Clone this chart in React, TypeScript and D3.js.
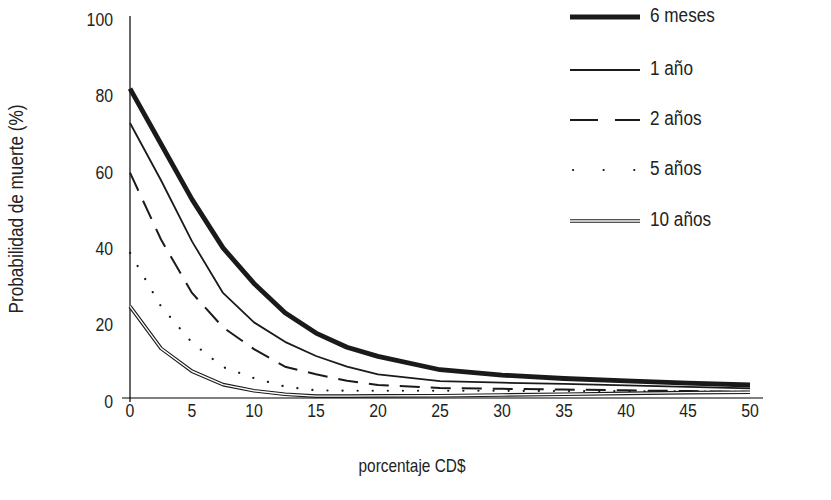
import React from 'react';
import * as d3 from 'd3';

// porcentaje CD$ (eje x)
const xValues = [0, 2.5, 5, 7.5, 10, 12.5, 15, 17.5, 20, 25, 30, 35, 40, 45, 50];

// probabilidad de muerte (%) por horizonte
const seisMeses = [81, 66.5, 52, 39.3, 30, 22.3, 17, 13.3, 10.9, 7.4, 6.0, 5.1, 4.5, 3.9, 3.4];
const unAno = [72, 57, 41, 27.5, 19.8, 14.7, 11, 8.2, 6.2, 4.4, 4.0, 3.7, 3.3, 2.9, 2.5];
const dosAnos = [59, 41.5, 27.5, 18.5, 12.8, 8.2, 6.2, 4.5, 3.4, 2.6, 2.4, 2.2, 2.0, 1.8, 1.6];
const cincoAnos = [38, 24, 14.5, 8.1, 5.2, 3.0, 2.0, 1.9, 1.9, 1.9, 1.9, 1.8, 1.8, 1.7, 1.6];
const diezAnos = [24, 13, 7, 3.5, 1.9, 1.0, 0.5, 0.5, 0.55, 0.6, 0.8, 1.0, 1.2, 1.4, 1.5];

const seriesNames = ['6 meses', '1 año', '2 años', '5 años', '10 años'];
const xTicks = [0, 5, 10, 15, 20, 25, 30, 35, 40, 45, 50];
const yTicks = [0, 20, 40, 60, 80, 100];

const FONT = '"Liberation Sans", Arial, sans-serif';
const SQUEEZE = 0.88; // la fuente original es condensada

// estilo de cada serie
const styles = [
  { width: 4.8, dash: null, legendDash: null, double: false },
  { width: 1.8, dash: null, legendDash: null, double: false },
  { width: 2, dash: '20,11', legendDash: '28,17', double: false },
  { width: 2.2, dash: '0.1,15', legendDash: '0.1,30.5', double: false, round: true },
  { width: 3.6, dash: null, legendDash: null, double: true },
];

// texto condensado
function Label({ x, y, size, anchor = 'start', rotate = 0, children }: any) {
  return (
    <text
      transform={`translate(${x},${y}) rotate(${rotate}) scale(${SQUEEZE},1)`}
      textAnchor={anchor}
      dominantBaseline="middle"
      fontSize={size}
      fill="#222"
    >
      {children}
    </text>
  );
}

export default function App() {
  const width = 831;
  const height = 500;

  const x = d3.scaleLinear().domain([0, 50]).range([130, 750]);
  const y = d3.scaleLinear().domain([0, 100]).range([398, 16]);

  const allSeries = [seisMeses, unAno, dosAnos, cincoAnos, diezAnos];

  const line = d3
    .line<number>()
    .x((_, i) => x(xValues[i]))
    .y((d) => y(d));

  const legendY = [17, 70, 120, 170, 221];
  const legX1 = 570;
  const legX2 = 640;

  return (
    <svg
      width={width}
      height={height}
      style={{ position: 'absolute', left: 0, top: 0, background: '#fff' }}
      fontFamily={FONT}
    >
      {/* ejes */}
      <line x1={x(0)} x2={x(0)} y1={y(100)} y2={y(0) + 4} stroke="#000" strokeWidth={1.2} />
      <line x1={x(0) - 8} x2={763} y1={y(0)} y2={y(0)} stroke="#000" strokeWidth={1.2} />

      {yTicks.map((t) => (
        <Label key={t} x={113} y={y(t) + 5} size={18} anchor="end">
          {t}
        </Label>
      ))}
      {xTicks.map((t) => (
        <Label key={t} x={x(t)} y={412} size={18} anchor="middle">
          {t}
        </Label>
      ))}

      <Label x={18} y={209} size={19.5} anchor="middle" rotate={-90}>
        Probabilidad de muerte (%)
      </Label>
      <Label x={412} y={467} size={17.5} anchor="middle">
        porcentaje CD$
      </Label>

      {/* series */}
      {allSeries.map((s, i) => {
        const st = styles[i];
        const d = line(s) || '';
        return (
          <g key={seriesNames[i]}>
            <path
              d={d}
              fill="none"
              stroke="#1a1a1a"
              strokeWidth={st.width}
              strokeDasharray={st.dash || undefined}
              strokeLinecap={st.round ? 'round' : 'butt'}
              strokeLinejoin="round"
            />
            {st.double && (
              <path d={d} fill="none" stroke="#fff" strokeWidth={1.4} strokeLinejoin="round" />
            )}
          </g>
        );
      })}

      {/* leyenda */}
      {seriesNames.map((name, i) => {
        const st = styles[i];
        const ly = legendY[i];
        return (
          <g key={name}>
            <line
              x1={legX1}
              x2={legX2}
              y1={ly}
              y2={ly}
              stroke="#1a1a1a"
              strokeWidth={st.width}
              strokeDasharray={st.legendDash || undefined}
              strokeLinecap={st.round ? 'round' : 'butt'}
              transform={st.round ? 'translate(3,0)' : undefined}
            />
            {st.double && <line x1={legX1} x2={legX2} y1={ly} y2={ly} stroke="#fff" strokeWidth={1.4} />}
            <Label x={650} y={ly} size={19.5}>
              {name}
            </Label>
          </g>
        );
      })}
    </svg>
  );
}
